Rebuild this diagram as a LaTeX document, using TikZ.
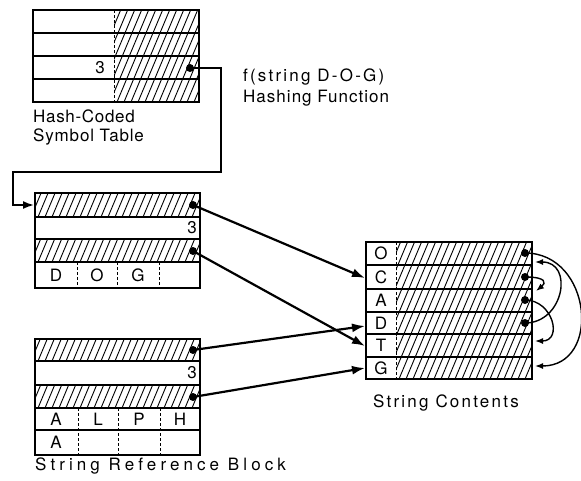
\documentclass[tikz,border=0pt]{standalone}
\usepackage{fontspec}
\setmainfont{TeX Gyre Heros}
\newfontfamily\cellfont{TeX Gyre Heros}
\usetikzlibrary{arrows.meta}
\newcommand\hatchrect[4]{%
  \begin{scope}
    \clip (#1,#2) rectangle (#3,#4);
    \foreach \k in {-60,-53,...,180} \draw[hatchline] ({#1+\k},#4) -- ({#1+\k+0.42*(#4-#2)},#2);
  \end{scope}}
\newcommand\lblfont[1]{\fontsize{17}{19}\selectfont\addfontfeatures{LetterSpace=#1}}
\begin{document}
\begin{tikzpicture}[x=1pt,y=-1pt,
  frame/.style={line width=1.6pt},
  hatchline/.style={line width=0.9pt},
  divider/.style={line width=1pt, dash pattern=on 3pt off 2pt},
  ptr/.style={line width=2.2pt, -{Latex[length=13pt,width=9pt]}},
  wire/.style={line width=1.8pt, -{Latex[length=11pt,width=8pt]}},
  link/.style={line width=1.4pt, -{Latex[length=8pt,width=6pt]}},
  dot/.style={circle, fill=black, inner sep=0pt, minimum size=8pt},
  lbl/.style={anchor=base west, inner sep=0pt},
  cell/.style={inner sep=0pt, font=\cellfont\fontsize{17}{19}\selectfont},
]
\useasboundingbox (0,0) rectangle (581,480);

% ---------- hash-coded symbol table ----------
\hatchrect{114}{10}{199}{102}
\draw[frame] (33,10) rectangle (199,102);
\foreach \y in {33,56,79} \draw[frame] (33,\y) -- (199,\y);
\draw[divider] (114,10) -- (114,102);
\node[cell, anchor=east] (t3) at (105,68) {3};
\node[dot] (tdot) at (190,68) {};
\node[lbl, font=\lblfont{4}] (hc1) at (33,122) {Hash-Coded};
\node[lbl, font=\lblfont{5}] (hc2) at (33,141) {Symbol Table};
\node[lbl, font=\lblfont{13}] (hf1) at (243,81) {f(string D-O-G)};
\node[lbl, font=\lblfont{6}] (hf2) at (243,102) {Hashing Function};

% ---------- middle block (DOG) ----------
\hatchrect{35}{193}{200}{217}
\hatchrect{35}{239}{200}{262}
\draw[frame] (35,193) rectangle (200,288);
\foreach \y in {217,239,262} \draw[frame] (35,\y) -- (200,\y);
\foreach \x in {77,117,159} \draw[divider] (\x,262) -- (\x,288);
\node[cell] (md) at (56,275) {D};
\node[cell] (mo) at (97,275) {O};
\node[cell] (mg) at (138,275) {G};
\node[cell, anchor=east] (m3) at (197,228) {3};
\node[dot] (m1) at (193,205) {};
\node[dot] (m2) at (193,251) {};
\coordinate (min) at (34,205);

% ---------- string reference block ----------
\hatchrect{35}{339}{200}{361}
\hatchrect{35}{385}{200}{408}
\draw[frame] (35,339) rectangle (200,455);
\foreach \y in {361,385,408,430} \draw[frame] (35,\y) -- (200,\y);
\foreach \x in {78,118,160} \draw[divider] (\x,408) -- (\x,455);
\node[cell] (ba) at (56,419) {A};
\node[cell] (bl) at (98,419) {L};
\node[cell] (bp) at (139,419) {P};
\node[cell] (bh) at (180,419) {H};
\node[cell] (ba2) at (56,442) {A};
\node[cell, anchor=east] (b3) at (197,373) {3};
\node[dot] (b1) at (193,350) {};
\node[dot] (b2) at (193,397) {};
\node[lbl, font=\lblfont{24}] (srb) at (35,470) {String Reference Block};

% ---------- string contents ----------
\hatchrect{396}{242}{532}{379}
\draw[frame] (366,242) rectangle (532,379);
\foreach \y in {265,289,312,334,357} \draw[frame] (366,\y) -- (532,\y);
\draw[divider] (396,242) -- (396,379);
\node[cell] (cO) at (381,253.5) {O};
\node[cell] (cC) at (381,277) {C};
\node[cell] (cA) at (381,300.5) {A};
\node[cell] (cD) at (381,323) {D};
\node[cell] (cT) at (381,345.5) {T};
\node[cell] (cG) at (381,368) {G};
\node[dot] (sO) at (525,253) {};
\node[dot] (sC) at (525,277) {};
\node[dot] (sA) at (525,300) {};
\node[dot] (sD) at (525,323) {};
\node[lbl, font=\lblfont{13}] (sc) at (373,407) {String Contents};
\coordinate (inC) at (365,278);
\coordinate (inD) at (365,326);
\coordinate (inT) at (365,346);
\coordinate (inG) at (365,368);
\coordinate (rO) at (535,262);
\coordinate (rA) at (536,291);
\coordinate (rT) at (535,341);
\coordinate (rG) at (535,366);

% ---------- connectors ----------
\coordinate (w1) at (221,68);
\coordinate (w2) at (221,172);
\coordinate (w3) at (13,172);
\coordinate (w4) at (13,205);
\draw[wire] (tdot.center) -- (w1) -- (w2) -- (w3) -- (w4) -- (min);

\draw[ptr] (m1.center) -- (inC);
\draw[ptr] (m2.center) -- (inT);
\draw[ptr] (b1.center) -- (inD);
\draw[ptr] (b2.center) -- (inG);

\draw[link] (sO.center) .. controls +(67,0) and +(67,0) .. (rG);
\draw[link] (sD.center) .. controls +(39,0) and +(39,0) .. (rO);
\draw[link] (sA.center) .. controls +(28,0) and +(28,0) .. (rT);
\draw[link] (sC.center) .. controls +(22,0) and +(10,-8) .. (rA);
\end{tikzpicture}
\end{document}
